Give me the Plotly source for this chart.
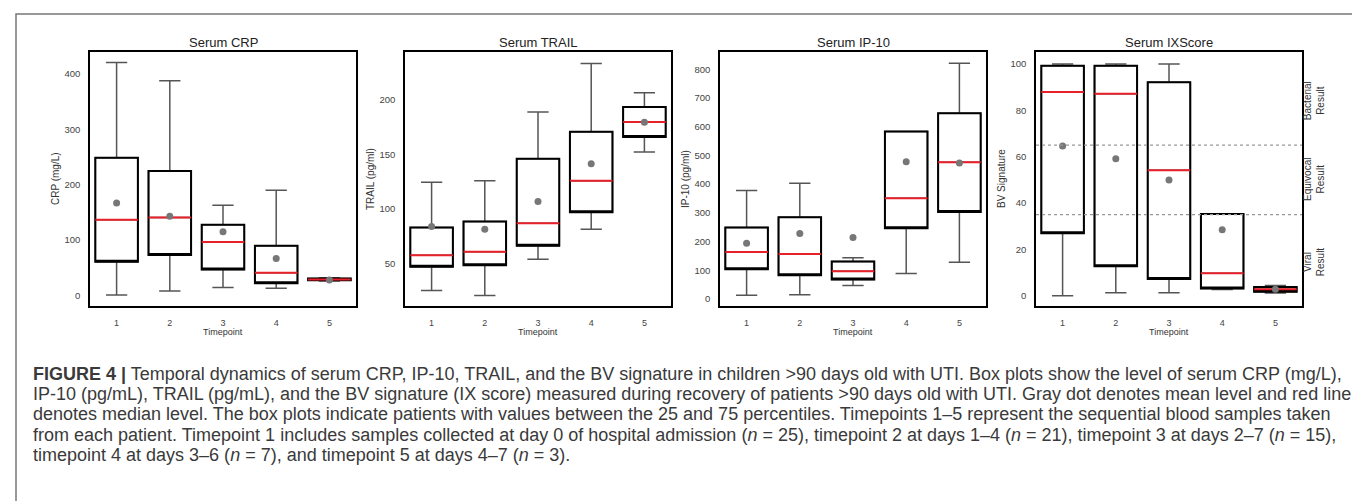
import plotly.graph_objects as go

W, H = 1360, 501

# ---------------- data ----------------
timepoints = [1, 2, 3, 4, 5]
tick_labels = ["1", "2", "3", "4", "5"]

crp_lo = [1, 8, 14.5, 13, 26]
crp_q1 = [61, 73, 47, 22, 27.5]
crp_med = [137, 141, 96.5, 41, 29]
crp_q3 = [249, 225, 128, 90, 30.5]
crp_hi = [421, 388, 163, 190, 32]
crp_mean = [167, 143, 115, 67, 28]

trail_lo = [25.3, 20.7, 53.9, 81.5, 152.3]
trail_q1 = [46.9, 48.3, 66.2, 97, 166]
trail_med = [57.6, 60.7, 86.8, 125.8, 179.7]
trail_q3 = [83, 88.4, 146, 170.8, 193.5]
trail_hi = [124.6, 126, 189, 233.5, 206.7]
trail_mean = [84, 81.3, 106.8, 141.5, 179.5]

ip10_lo = [13, 15, 47, 89, 128]
ip10_q1 = [104, 83, 68, 247, 303]
ip10_med = [164, 157, 97, 351, 476]
ip10_q3 = [249, 285, 131, 583, 647]
ip10_hi = [378, 403, 144, 583, 821]
ip10_mean = [194, 228, 214, 478, 474]

bv_lo = [0, 1.3, 1.3, 2.7, 1.2]
bv_q1 = [27, 12.8, 7.2, 3.2, 1.8]
bv_med = [87.9, 87.2, 54.2, 9.7, 2.8]
bv_q3 = [99.3, 99.3, 92.2, 35.3, 3.8]
bv_hi = [100, 100, 100, 35.3, 4.4]
bv_mean = [64.6, 59.1, 50, 28.5, 2.8]

bv_thresholds = [65, 35]
bv_zone_labels = ["Bacterial<br>Result", "Equivocal<br>Result", "Viral<br>Result"]
bv_zone_pos = [84, 50, 14.5]

crp_ticks = [0, 100, 200, 300, 400]
trail_ticks = [50, 100, 150, 200]
ip10_ticks = [0, 100, 200, 300, 400, 500, 600, 700, 800]
bv_ticks = [0, 20, 40, 60, 80, 100]

panels = [
    dict(title="Serum CRP", ytitle="CRP (mg/L)", lo=crp_lo, q1=crp_q1, med=crp_med,
         q3=crp_q3, hi=crp_hi, mean=crp_mean, ticks=crp_ticks, rng=[-19, 440], left=82),
    dict(title="Serum TRAIL", ytitle="TRAIL (pg/ml)", lo=trail_lo, q1=trail_q1, med=trail_med,
         q3=trail_q3, hi=trail_hi, mean=trail_mean, ticks=trail_ticks, rng=[11, 244], left=397),
    dict(title="Serum IP-10", ytitle="IP-10 (pg/ml)", lo=ip10_lo, q1=ip10_q1, med=ip10_med,
         q3=ip10_q3, hi=ip10_hi, mean=ip10_mean, ticks=ip10_ticks, rng=[-24, 860], left=712),
    dict(title="Serum IXScore", ytitle="BV Signature", lo=bv_lo, q1=bv_q1, med=bv_med,
         q3=bv_q3, hi=bv_hi, mean=bv_mean, ticks=bv_ticks, rng=[-4.4, 105.2], left=1028),
]

caption_lines = [
    "<b>FIGURE 4 |</b> Temporal dynamics of serum CRP, IP-10, TRAIL, and the BV signature in children &gt;90 days old with UTI. Box plots show the level of serum CRP (mg/L),",
    "IP-10 (pg/mL), TRAIL (pg/mL), and the BV signature (IX score) measured during recovery of patients &gt;90 days old with UTI. Gray dot denotes mean level and red line",
    "denotes median level. The box plots indicate patients with values between the 25 and 75 percentiles. Timepoints 1–5 represent the sequential blood samples taken",
    "from each patient. Timepoint 1 includes samples collected at day 0 of hospital admission (<i>n</i> = 25), timepoint 2 at days 1–4 (<i>n</i> = 21), timepoint 3 at days 2–7 (<i>n</i> = 15),",
    "timepoint 4 at days 3–6 (<i>n</i> = 7), and timepoint 5 at days 4–7 (<i>n</i> = 3).",
]

# ---------------- layout geometry ----------------
PW = 266
PTOP, PBOT = 44, 298
FONT = "Liberation Sans, Arial, sans-serif"


def px(x):
    return x / W


def py(y):
    return 1 - y / H


fig = go.Figure()
layout = dict(
    width=W, height=H, margin=dict(l=0, r=0, t=0, b=0),
    paper_bgcolor="white", plot_bgcolor="white", showlegend=False,
    boxmode="overlay", font=dict(family=FONT, color="#333"),
)
annotations = []
shapes = []

for i, p in enumerate(panels):
    n = "" if i == 0 else str(i + 1)
    xa, ya = "x" + n, "y" + n
    left = p["left"]
    layout["xaxis" + n] = dict(
        domain=[px(left), px(left + PW)], anchor=ya, range=[0.5, 5.5],
        tickmode="array", tickvals=timepoints, ticktext=tick_labels,
        showgrid=False, zeroline=False, showline=True, mirror=True,
        linecolor="black", linewidth=1.5, ticks="outside", ticklen=7,
        tickcolor="rgba(0,0,0,0)", tickfont=dict(size=9, color="#444"),
        fixedrange=True,
    )
    layout["yaxis" + n] = dict(
        domain=[py(PBOT), py(PTOP)], anchor=xa, range=p["rng"],
        tickmode="array", tickvals=p["ticks"],
        showgrid=False, zeroline=False, showline=True, mirror=True,
        linecolor="black", linewidth=1.5, ticks="outside", ticklen=6,
        tickcolor="rgba(0,0,0,0)", tickfont=dict(size=9.5, color="#444"),
        fixedrange=True,
    )
    # whiskers + caps (gray)
    fig.add_trace(go.Box(
        x=timepoints, q1=p["q1"], median=p["med"], q3=p["q3"],
        lowerfence=p["lo"], upperfence=p["hi"], xaxis=xa, yaxis=ya,
        width=0.8, whiskerwidth=0.5, boxpoints=False,
        line=dict(color="#555", width=1.5), fillcolor="white", hoverinfo="skip",
    ))
    # box outline (black)
    fig.add_trace(go.Box(
        x=timepoints, q1=p["q1"], median=p["q1"], q3=p["q3"],
        lowerfence=p["q1"], upperfence=p["q3"], xaxis=xa, yaxis=ya,
        width=0.8, whiskerwidth=0, boxpoints=False,
        line=dict(color="black", width=2), fillcolor="rgba(0,0,0,0)", hoverinfo="skip",
    ))
    # median (red)
    fig.add_trace(go.Box(
        x=timepoints, q1=p["med"], median=p["med"], q3=p["med"],
        lowerfence=p["med"], upperfence=p["med"], xaxis=xa, yaxis=ya,
        width=0.8, whiskerwidth=0, boxpoints=False,
        line=dict(color="#e8202a", width=2), fillcolor="rgba(0,0,0,0)", hoverinfo="skip",
    ))
    # mean (gray dot)
    fig.add_trace(go.Scatter(
        x=timepoints, y=p["mean"], xaxis=xa, yaxis=ya, mode="markers",
        marker=dict(color="#777", size=7), hoverinfo="skip",
    ))
    cx = px(left + PW / 2)
    annotations.append(dict(
        text=p["title"], x=cx, y=py(34), xref="paper", yref="paper",
        showarrow=False, xanchor="center", yanchor="middle",
        font=dict(size=13, color="#222"),
    ))
    annotations.append(dict(
        text=p["ytitle"], x=px(left - 35), y=py((PTOP + PBOT) / 2), xref="paper", yref="paper",
        showarrow=False, xanchor="center", yanchor="middle", textangle=-90,
        font=dict(size=10, color="#333"),
    ))
    annotations.append(dict(
        text="Timepoint", x=cx, y=py(324), xref="paper", yref="paper",
        showarrow=False, xanchor="center", yanchor="middle",
        font=dict(size=9, color="#333"),
    ))

# threshold lines on the BV panel
for t in bv_thresholds:
    shapes.append(dict(
        type="line", xref="x4 domain", yref="y4", x0=0, x1=1, y0=t, y1=t,
        line=dict(color="#999", width=1.2, dash="dot"),
    ))
for lab, pos in zip(bv_zone_labels, bv_zone_pos):
    annotations.append(dict(
        text=lab, x=px(1306), y=pos, xref="paper", yref="y4",
        showarrow=False, xanchor="center", yanchor="middle", textangle=-90,
        font=dict(size=10, color="#333"),
    ))

# outer frame
shapes.append(dict(
    type="rect", xref="paper", yref="paper", x0=px(8), x1=px(1357), y0=-0.02, y1=py(6),
    line=dict(color="#777", width=1.5), fillcolor="rgba(0,0,0,0)", layer="below",
))

# caption
for k, line in enumerate(caption_lines):
    annotations.append(dict(
        text=line, x=px(23), y=py(366 + 20.2 * k), xref="paper", yref="paper",
        showarrow=False, xanchor="left", yanchor="middle", align="left",
        font=dict(size=18, color="#3a3a3a", family=FONT),
    ))

layout["annotations"] = annotations
layout["shapes"] = shapes
fig.update_layout(**layout)
fig.write_html("out.html")
